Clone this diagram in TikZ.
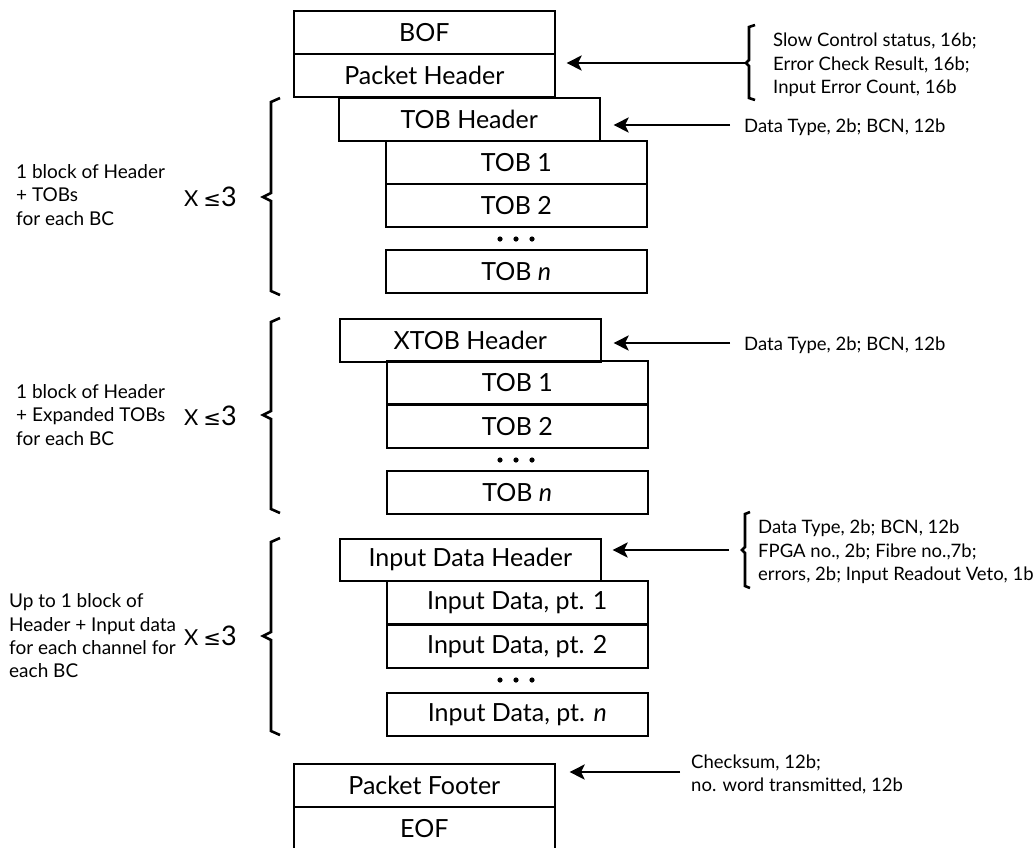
\documentclass[tikz,border=0pt]{standalone}
\usepackage{fontspec}
\setmainfont{Lato}
\newfontfamily\dejavu{DejaVu Sans}
\usetikzlibrary{arrows.meta}
\begin{document}
\begin{tikzpicture}[x=1pt,y=-1pt,
  box/.style={draw,line width=1.6pt,minimum width=261pt,minimum height=43pt,anchor=north west,inner sep=0pt,font=\fontsize{25}{28}\selectfont},
  note/.style={anchor=west,align=left,inner sep=0pt,font=\fontsize{19}{23.3}\selectfont},
  side/.style={anchor=west,align=left,inner sep=0pt,font=\fontsize{18.5}{23.3}\selectfont},
  times/.style={anchor=west,inner sep=0pt,font=\fontsize{22}{24}\selectfont},
  arr/.style={line width=2.6pt,-{Stealth[length=15pt,width=15pt,inset=3.5pt]}},
  brc/.style={line width=2.6pt,line cap=butt,line join=miter}]
\useasboundingbox (0,0) rectangle (1035,847);
\clip (0,0) rectangle (1035,847);
\fill[white] (0,0) rectangle (1035,847);

% boxes
\node[box] (bof)  at (293,10)  {BOF};
\node[box] (ph)   at (293,53)  {Packet Header};
\node[box] (tobh) at (338,97)  {TOB Header};
\node[box] (tob1) at (385,140) {TOB 1};
\node[box] (tob2) at (385,183) {TOB 2};
\node[box] (tobn) at (385,249) {TOB \textit{n}};
\node[box] (xh)   at (339,318) {XTOB Header};
\node[box] (x1)   at (386,360) {TOB 1};
\node[box] (x2)   at (386,404) {TOB 2};
\node[box] (xn)   at (386,470) {TOB \textit{n}};
\node[box,minimum height=42pt] (idh) at (339,538) {Input Data Header};
\node[box] (id1)  at (386,580) {Input Data, pt. 1};
\node[box] (id2)  at (386,624) {Input Data, pt. 2};
\node[box] (idn)  at (386,692) {Input Data, pt. \textit{n}};
\node[box] (pf)   at (293,763) {Packet Footer};
\node[box] (eof)  at (293,806) {EOF};

% dots
\foreach \yy in {239,460,680}{
  \foreach \xx in {500,516,532}{\fill (\xx,\yy) circle (2.6pt);}
}

% right annotations
\node[side] (phn) at (773,65) {Slow Control status, 16b;\\Error Check Result, 16b;\\Input Error Count, 16b};
\node[side] (dt1) at (744,127) {Data Type, 2b; BCN, 12b};
\node[side] (dt2) at (744,345) {Data Type, 2b; BCN, 12b};
\node[side] (idn2) at (758,552) {Data Type, 2b; BCN, 12b\\FPGA no., 2b; Fibre no.,7b;\\errors, 2b; Input Readout Veto, 1b};
\node[side] (cks) at (691,774.5) {Checksum, 12b;\\no. word transmitted, 12b};

% small braces
\draw[brc] (755,25) -- (749,27) -- (749,60) -- (746,63) -- (749,66) -- (749,98) -- (755,100);
\coordinate (bt1) at (746,63);
\draw[brc] (750,512) -- (745,514) -- (745,547) -- (742,550) -- (745,553) -- (745,586) -- (750,588);
\coordinate (bt2) at (742,550);

% arrows
\draw[arr,shorten <=1pt,shorten >=11pt] (bt1) -- (bt1 -| ph.east);
\coordinate (a2) at (dt1.west |- 0,125);
\draw[arr,shorten <=14pt,shorten >=13pt] (a2) -- (a2 -| tobh.east);
\coordinate (a3) at (dt2.west |- 0,343);
\draw[arr,shorten <=14pt,shorten >=12pt] (a3) -- (a3 -| xh.east);
\draw[arr,shorten <=13pt,shorten >=11pt] (bt2) -- (bt2 -| idh.east);
\coordinate (a5) at (cks.west |- 0,772);
\draw[arr,shorten <=11pt,shorten >=14pt] (a5) -- (a5 -| pf.east);

% left braces
\draw[brc] (280,98) -- (271,102) -- (271,193) -- (263,197) -- (271,201) -- (271,291) -- (280,295);
\draw[brc] (280,318) -- (271,322) -- (271,411) -- (263,415) -- (271,419) -- (271,509) -- (280,513);
\draw[brc] (280,538) -- (271,542) -- (271,632) -- (263,636) -- (271,640) -- (271,731) -- (280,735);

% left notes
\node[note] (l1) at (16,195) {1 block of Header\\+ TOBs\\for each BC};
\node[times] (m1) at (184,197) {X\hspace{5pt}{\dejavu\fontsize{21}{21}\selectfont ≤}{\fontsize{27}{27}\selectfont 3}};
\node[note] (l2) at (16,415) {1 block of Header\\+ Expanded TOBs\\for each BC};
\node[times] (m2) at (184,416) {X\hspace{5pt}{\dejavu\fontsize{21}{21}\selectfont ≤}{\fontsize{27}{27}\selectfont 3}};
\node[note] (l3) at (9,636) {Up to 1 block of\\Header + Input data\\for each channel for\\each BC};
\node[times] (m3) at (184,636) {X\hspace{5pt}{\dejavu\fontsize{21}{21}\selectfont ≤}{\fontsize{27}{27}\selectfont 3}};
\end{tikzpicture}
\end{document}
